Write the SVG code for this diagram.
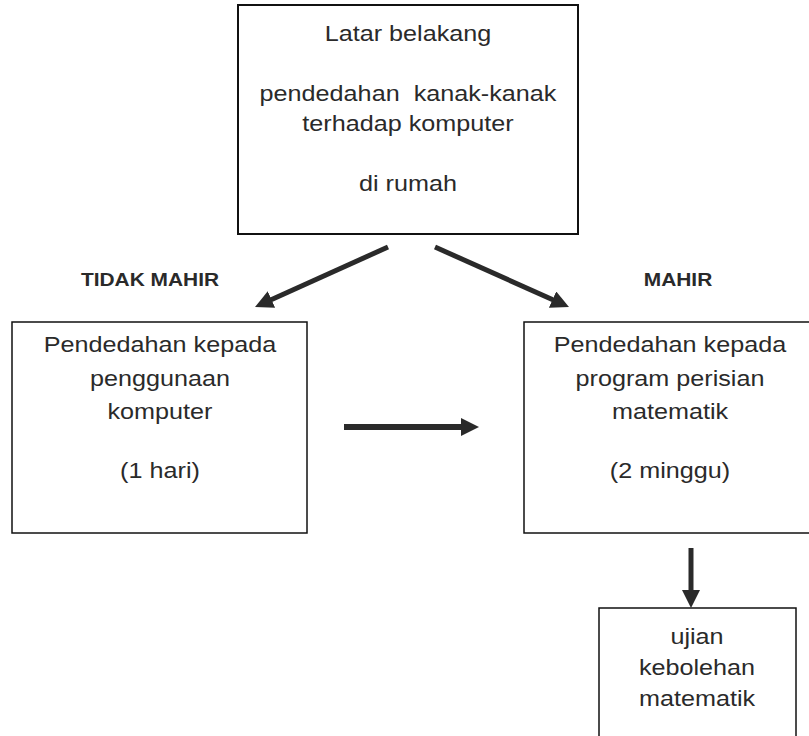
<svg xmlns="http://www.w3.org/2000/svg" width="809" height="736" viewBox="0 0 809 736">
<style>
.box{fill:#fff;stroke:#111;stroke-width:2}
.t{font-family:"Liberation Sans",Arial,sans-serif;font-size:22.5px;fill:#2a2a2a;text-anchor:middle;white-space:pre}
.lbl{font-family:"Liberation Sans",Arial,sans-serif;font-size:19px;font-weight:bold;fill:#2a2a2a;text-anchor:middle}
.arr{stroke:#2a2a2a;fill:none;marker-end:url(#ah)}
</style>
<defs>
<marker id="ah" markerUnits="userSpaceOnUse" markerWidth="18" markerHeight="18" refX="4" refY="9" orient="auto">
<path d="M0,0 L18,9 L0,18 z" fill="#2a2a2a"/>
</marker>
</defs>
<rect width="809" height="736" fill="#fff"/>
<g id="latar">
<rect class="box" x="238" y="5" width="340" height="229"/>
<g transform="translate(408 0) scale(1.12 1)">
<text class="t" x="0" y="41">Latar belakang</text>
<text class="t" x="0" y="101">pendedahan  kanak-kanak</text>
<text class="t" x="0" y="131">terhadap komputer</text>
<text class="t" x="0" y="191">di rumah</text>
</g>
</g>
<g id="penggunaan">
<rect class="box" x="12" y="322" width="295" height="211" style="stroke-width:1.5"/>
<g transform="translate(160 0) scale(1.12 1)">
<text class="t" x="0" y="352">Pendedahan kepada</text>
<text class="t" x="0" y="386">penggunaan</text>
<text class="t" x="0" y="419">komputer</text>
<text class="t" x="0" y="478">(1 hari)</text>
</g>
</g>
<g id="perisian">
<rect class="box" x="524" y="322" width="295" height="211" style="stroke-width:1.5"/>
<g transform="translate(670 0) scale(1.12 1)">
<text class="t" x="0" y="352">Pendedahan kepada</text>
<text class="t" x="0" y="386">program perisian</text>
<text class="t" x="0" y="419">matematik</text>
<text class="t" x="0" y="478">(2 minggu)</text>
</g>
</g>
<g id="ujian">
<rect class="box" x="599" y="608" width="197" height="140" style="stroke-width:1.5"/>
<g transform="translate(697 0) scale(1.12 1)">
<text class="t" x="0" y="644">ujian</text>
<text class="t" x="0" y="675">kebolehan</text>
<text class="t" x="0" y="706">matematik</text>
</g>
</g>
<g id="labels">
<g transform="translate(150 0) scale(1.1 1)"><text class="lbl" x="0" y="286">TIDAK MAHIR</text></g>
<g transform="translate(678 0) scale(1.1 1)"><text class="lbl" x="0" y="286">MAHIR</text></g>
</g>
<g id="connectors">
<line class="arr" x1="388" y1="247" x2="267.8" y2="301.2" stroke-width="5"/>
<line class="arr" x1="435" y1="247" x2="556.2" y2="301.3" stroke-width="5"/>
<line class="arr" x1="344" y1="427" x2="465" y2="427" stroke-width="6"/>
<line class="arr" x1="691" y1="548" x2="691" y2="594" stroke-width="5"/>
</g>
</svg>
